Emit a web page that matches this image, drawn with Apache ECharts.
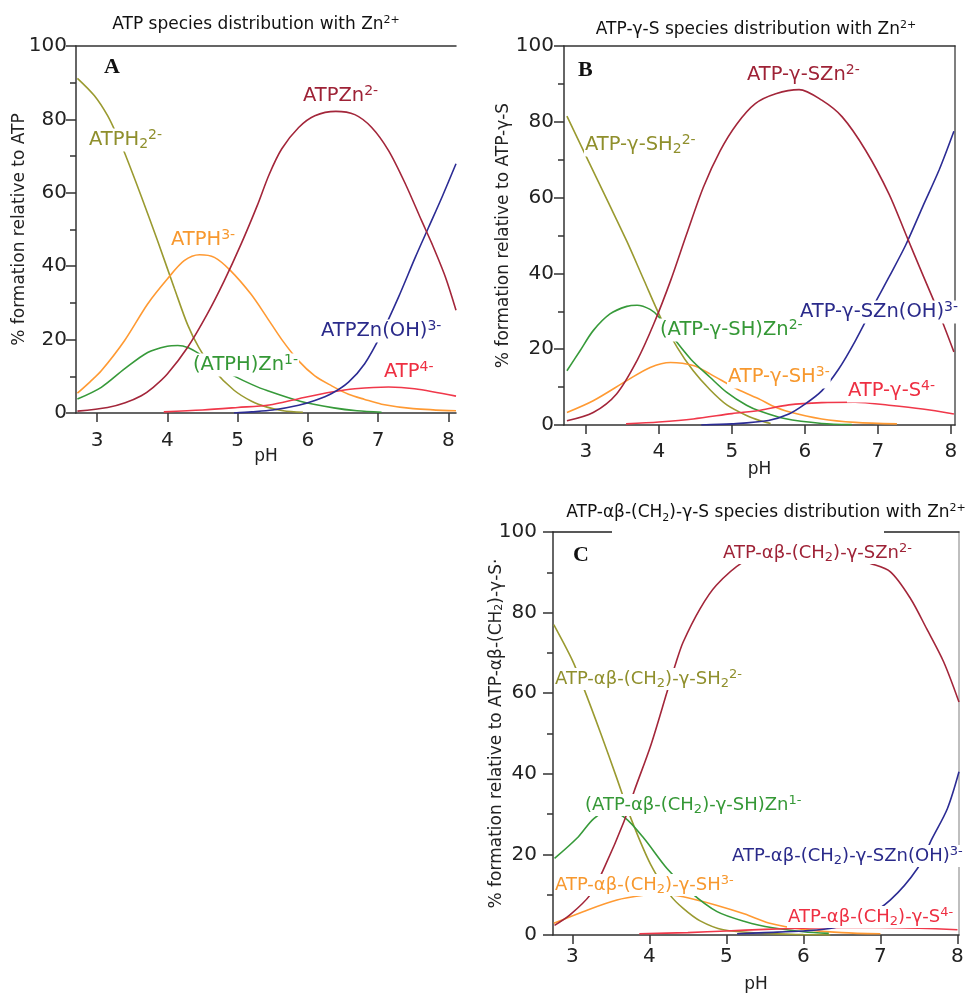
<!DOCTYPE html>
<html><head><meta charset="utf-8">
<script src="https://cdn.jsdelivr.net/npm/echarts@6/dist/echarts.min.js"></script>
<style>html,body{margin:0;padding:0;background:#fff}#c{width:968px;height:995px}</style>
</head><body><div id="c"></div><script>
const FONT = 'DejaVu Sans';
const xTicks = [3, 4, 5, 6, 7, 8];

// ---- Panel A: ATP ----
const A_ATPH2 = [[2.72,91.2],[2.96,86.5],[3.15,81],[3.3,75],[3.4,70.5],[3.63,59],[3.86,47],[4.1,34],[4.29,24],[4.45,17.8],[4.67,11.5],[4.95,6.2],[5.2,3.2],[5.42,1.6],[5.65,0.6],[5.93,0.2]];
const A_ATPH = [[2.72,5.4],[2.9,8.5],[3.06,11.5],[3.39,19.7],[3.72,29.7],[4.0,36.5],[4.24,41.5],[4.46,43.1],[4.67,42.4],[4.9,38.8],[5.19,32.4],[5.42,26],[5.63,20],[5.87,14.2],[6.1,10.1],[6.34,7.4],[6.58,5.1],[6.81,3.7],[7.05,2.4],[7.5,1.2],[8.11,0.6]];
const A_ATPHZn = [[2.72,3.8],[3.06,7],[3.39,12],[3.72,16.5],[4.0,18.2],[4.15,18.4],[4.3,17.8],[4.45,16.2],[4.7,12.8],[4.99,9.7],[5.2,7.8],[5.42,6.1],[5.89,3.2],[6.37,1.4],[6.7,0.6],[7.05,0.2]];
const A_ATPZn = [[2.72,0.5],[3.15,1.5],[3.4,2.8],[3.63,4.7],[3.8,7],[4.0,10.6],[4.29,17.9],[4.57,27],[4.81,36],[5.05,46],[5.28,56.5],[5.45,65],[5.63,72],[5.87,77.8],[6.1,81],[6.4,82.2],[6.67,81.3],[6.91,77.8],[7.15,71.5],[7.39,62.4],[7.62,52.4],[7.77,46],[7.96,37],[8.11,28]];
const A_ATPZnOH = [[4.95,0],[5.2,0.3],[5.5,0.8],[5.87,2.1],[6.1,3.4],[6.34,5.3],[6.58,8.4],[6.81,13.4],[7.05,21.6],[7.29,31.5],[7.53,42.4],[7.72,50.6],[7.91,58.8],[8.11,67.9]];
const A_ATP4 = [[3.95,0.3],[4.5,0.8],[5.0,1.5],[5.45,2.2],[5.87,3.9],[6.34,5.7],[6.67,6.6],[7.15,7.1],[7.52,6.6],[8.11,4.6]];

// ---- Panel B: ATP-γ-S ----
const B_SH2 = [[2.74,81.5],[3.0,71],[3.3,59],[3.56,48.5],[3.8,38],[4.02,28.5],[4.25,20.5],[4.47,14.3],[4.7,9.3],[4.93,5.3],[5.2,2.5],[5.39,1.1],[5.53,0.4]];
const B_SHZn = [[2.74,14.3],[2.92,19.6],[3.1,24.9],[3.33,29.3],[3.56,31.3],[3.7,31.6],[3.88,30.5],[4.0,28.5],[4.16,24],[4.44,17.3],[4.7,12.6],[4.93,8.6],[5.2,5.2],[5.39,3.6],[5.72,1.7],[6.23,0.4],[6.64,0.1]];
const B_SH = [[2.74,3.3],[3.1,6.4],[3.56,11.7],[3.88,15.2],[4.16,16.5],[4.47,15.7],[4.7,13.5],[5.07,9.5],[5.39,6.7],[5.55,5.1],[5.78,3.5],[6.23,1.6],[6.69,0.7],[7.26,0.3]];
const B_SZn = [[2.74,1.1],[3.1,3.3],[3.42,8.2],[3.7,17],[3.93,26.7],[4.16,38.1],[4.38,50.4],[4.61,62.8],[4.84,72.4],[5.07,79.5],[5.32,84.8],[5.6,87.4],[5.92,88.5],[6.23,85.7],[6.51,81.3],[6.83,72.5],[7.15,61],[7.38,50.4],[7.61,39.8],[7.84,29.3],[8.04,19.3]];
const B_SZnOH = [[4.58,0],[5.0,0.3],[5.5,1.2],[5.78,2.9],[6.0,5.5],[6.23,9],[6.46,14.7],[6.69,22.2],[6.96,32.2],[7.15,39],[7.38,47.5],[7.61,57.5],[7.84,67.4],[8.04,77.5]];
const B_S4 = [[3.55,0.3],[4.0,0.8],[4.47,1.6],[5.0,3.0],[5.39,3.9],[5.78,5.3],[6.23,5.9],[6.69,6.0],[7.15,5.2],[7.61,4.2],[8.04,2.9]];

// ---- Panel C: ATP-αβ-(CH2)-γ-S ----
const C_SH2 = [[2.76,77],[3.0,68.2],[3.15,61.2],[3.37,50],[3.58,38.8],[3.76,29],[4.02,17.4],[4.27,9.9],[4.44,6.6],[4.66,3.5],[4.96,1.3],[5.5,0.4],[6.0,0.1],[6.35,0]];
const C_SHZn = [[2.77,19],[3.06,24],[3.28,28.9],[3.48,30.8],[3.69,29],[3.93,24],[4.23,16.5],[4.53,10.7],[4.88,5.8],[5.25,3.3],[5.6,1.8],[6.0,0.8],[6.33,0.4]];
const C_SH = [[2.76,2.9],[3.14,5.8],[3.58,8.7],[4.01,10.1],[4.1,10.2],[4.44,9.5],[4.87,7.4],[5.24,5.2],[5.55,3],[6.0,1.4],[6.5,0.6],[7.0,0.3]];
const C_SZn = [[2.77,2.4],[2.97,5],[3.23,9.9],[3.42,16.9],[3.67,28.1],[3.8,35.5],[4.02,47.1],[4.23,60.3],[4.35,67.8],[4.44,72.7],[4.66,81],[4.87,86.8],[5.22,92.6],[5.5,94.5],[6.0,95.5],[6.5,94.5],[6.87,92.2],[7.13,90.1],[7.39,83.5],[7.6,76],[7.82,67.8],[8.02,57.8]];
const C_SZnOH = [[5.14,0.3],[5.5,0.6],[6.0,1.0],[6.4,1.8],[6.8,4.5],[7.13,8.7],[7.48,16.5],[7.67,23.9],[7.87,31.4],[8.02,40.5]];
const C_S4 = [[3.87,0.3],[4.5,0.6],[5.0,1.0],[5.5,1.4],[6.0,1.7],[6.5,1.9],[7.0,1.9],[7.5,1.7],[8.0,1.3]];

const COL = {olive:'#9a9a30', orange:'#ff9a33', green:'#379a3a', dred:'#a3263a', blue:'#2c2c94', red:'#f0384a'};
const TXT = {olive:'#8f8f2c', orange:'#f7982e', green:'#359836', dred:'#9e2236', blue:'#2a2a8a', red:'#ee2f42'};
const AX = '#333';

function xBottom(g, min, max, margin, nameGap) {
  return {type:'value', gridIndex:g, position:'bottom', min, max,
    axisLine:{show:true, onZero:false, lineStyle:{color:AX, width:1.5}},
    axisTick:{show:true, customValues:xTicks, length:9, lineStyle:{color:AX, width:1.5}},
    axisLabel:{customValues:xTicks, fontSize:20, fontFamily:FONT, color:'#222', margin},
    splitLine:{show:false}, name:'pH', nameLocation:'middle', nameGap, nameMoveOverlap:false,
    nameTextStyle:{fontSize:17, fontFamily:FONT, color:'#222'}};
}
function xTop(g, min, max, color) {
  return {type:'value', gridIndex:g, position:'top', min, max,
    axisLine:{show:true, onZero:false, lineStyle:{color, width:1.5}},
    axisTick:{show:false}, axisLabel:{show:false}, splitLine:{show:false}};
}
function yLeft(g, name, nameGap, margin, rich) {
  return {type:'value', gridIndex:g, position:'left', min:0, max:100, interval:20,
    axisLine:{show:true, onZero:false, lineStyle:{color:AX, width:1.5}},
    axisTick:{show:true, length:10, lineStyle:{color:AX, width:1.5}},
    minorTick:{show:true, splitNumber:2, length:6, lineStyle:{color:AX, width:1.5}},
    splitLine:{show:false}, minorSplitLine:{show:false},
    axisLabel:{fontSize:20, fontFamily:FONT, color:'#222', margin},
    name, nameLocation:'middle', nameGap, nameMoveOverlap:false,
    nameTextStyle:{fontSize:17, fontFamily:FONT, color:'#222', rich: rich || {}}};
}
function yRight(g, color) {
  return {type:'value', gridIndex:g, position:'right', min:0, max:100,
    axisLine:{show:true, onZero:false, lineStyle:{color, width:1.5}},
    axisTick:{show:false}, axisLabel:{show:false}, splitLine:{show:false}};
}
function line(data, color, xi, yi) {
  return {type:'line', data, xAxisIndex:xi, yAxisIndex:yi, showSymbol:false, symbol:'none',
    smooth:0.3, lineStyle:{color, width:1.6}, itemStyle:{color}, silent:true, animation:false};
}

const richBase = (fs, k) => ({
  sup:{fontSize:Math.round(fs*k), fontFamily:FONT, lineHeight:Math.round(fs*k), verticalAlign:'top'},
  sub:{fontSize:Math.round(fs*k), fontFamily:FONT, lineHeight:Math.round(fs*k), verticalAlign:'bottom'}
});
function label(text, x, y, color, fs) {
  fs = fs || 19.5;
  return {type:'text', x, y, z:100, style:{text, fill:color, fontSize:fs, fontFamily:FONT,
    lineHeight:Math.round(fs*1.2), align:'left', verticalAlign:'middle',
    backgroundColor:'#fff', padding:[0,1], rich:richBase(fs, 0.74)}};
}
function title(text, x, y) {
  return {type:'text', x, y, z:100, style:{text, fill:'#111', fontSize:17, fontFamily:FONT,
    lineHeight:21, align:'center', verticalAlign:'middle', backgroundColor:'#fff', rich:richBase(17, 0.66)}};
}
function letter(t, x, y) {
  return {type:'text', x, y, z:100, style:{text:t, fill:'#111', fontSize:22, fontWeight:'bold',
    fontFamily:'Liberation Serif', align:'left', verticalAlign:'middle'}};
}

const chart = echarts.init(document.getElementById('c'), null, {renderer:'canvas'});
chart.setOption({
  animation:false,
  backgroundColor:'#fff',
  grid:[
    {left:76, top:46, width:380, height:367},
    {left:564, top:46, width:391, height:379},
    {left:553, top:532, width:406, height:403}
  ],
  xAxis:[
    xBottom(0, 2.7, 8.11, 18, 35), xTop(0, 2.7, 8.11, AX),
    xBottom(1, 2.7, 8.055, 17, 36), xTop(1, 2.7, 8.055, AX),
    xBottom(2, 2.75, 8.02, 12, 41), xTop(2, 2.75, 8.02, '#222')
  ],
  yAxis:[
    yLeft(0, '% formation relative to ATP', 48, 9),
    yLeft(1, '% formation relative to ATP-γ-S', 52, 10), yRight(1, '#555'),
    yLeft(2, '% formation relative to ATP-αβ-(CH{sub|2})-γ-S·', 48, 16,
      {sub:{fontSize:11, fontFamily:FONT, color:'#222', lineHeight:11, verticalAlign:'bottom'}}),
    yRight(2, '#aaa')
  ],
  series:[
    line(A_ATPH2, COL.olive, 0, 0), line(A_ATPH, COL.orange, 0, 0), line(A_ATPHZn, COL.green, 0, 0),
    line(A_ATP4, COL.red, 0, 0), line(A_ATPZnOH, COL.blue, 0, 0), line(A_ATPZn, COL.dred, 0, 0),
    line(B_SH2, COL.olive, 2, 1), line(B_SH, COL.orange, 2, 1), line(B_SHZn, COL.green, 2, 1),
    line(B_S4, COL.red, 2, 1), line(B_SZnOH, COL.blue, 2, 1), line(B_SZn, COL.dred, 2, 1),
    line(C_SH2, COL.olive, 4, 3), line(C_SH, COL.orange, 4, 3), line(C_SHZn, COL.green, 4, 3),
    line(C_S4, COL.red, 4, 3), line(C_SZnOH, COL.blue, 4, 3), line(C_SZn, COL.dred, 4, 3)
  ],
  graphic:[
    {type:'rect', z:90, shape:{x:612, y:527, width:272, height:9}, style:{fill:'#fff'}},
    title('ATP species distribution with Zn{sup|2+}', 256, 25),
    title('ATP-γ-S species distribution with Zn{sup|2+}', 756, 30),
    title('ATP-αβ-(CH{sub|2})-γ-S species distribution with Zn{sup|2+}', 766, 513),
    letter('A', 104, 67), letter('B', 578, 70), letter('C', 573, 555),
    label('ATPH{sub|2}{sup|2-}', 88, 140, TXT.olive),
    label('ATPH{sup|3-}', 170, 240, TXT.orange),
    label('(ATPH)Zn{sup|1-}', 192, 365, TXT.green),
    label('ATPZn{sup|2-}', 302, 96, TXT.dred),
    label('ATPZn(OH){sup|3-}', 320, 331, TXT.blue),
    label('ATP{sup|4-}', 383, 372, TXT.red),
    label('ATP-γ-SZn{sup|2-}', 746, 75, TXT.dred),
    label('ATP-γ-SH{sub|2}{sup|2-}', 584, 145, TXT.olive),
    label('(ATP-γ-SH)Zn{sup|2-}', 659, 330, TXT.green),
    label('ATP-γ-SZn(OH){sup|3-}', 799, 312, TXT.blue),
    label('ATP-γ-SH{sup|3-}', 727, 377, TXT.orange),
    label('ATP-γ-S{sup|4-}', 847, 391, TXT.red),
    label('ATP-αβ-(CH{sub|2})-γ-SZn{sup|2-}', 722, 553, TXT.dred, 18),
    label('ATP-αβ-(CH{sub|2})-γ-SH{sub|2}{sup|2-}', 554, 679, TXT.olive, 18),
    label('(ATP-αβ-(CH{sub|2})-γ-SH)Zn{sup|1-}', 584, 805, TXT.green, 18),
    label('ATP-αβ-(CH{sub|2})-γ-SZn(OH){sup|3-}', 731, 856, TXT.blue, 18),
    label('ATP-αβ-(CH{sub|2})-γ-SH{sup|3-}', 554, 885, TXT.orange, 18),
    label('ATP-αβ-(CH{sub|2})-γ-S{sup|4-}', 787, 917, TXT.red, 18)
  ]
});
</script></body></html>
